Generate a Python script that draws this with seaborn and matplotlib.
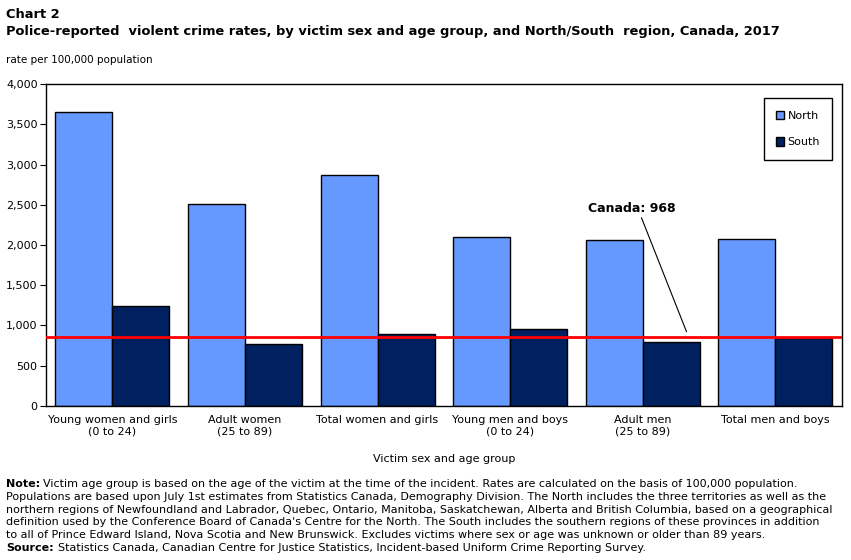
import matplotlib
matplotlib.use('Agg')
import matplotlib.pyplot as plt
import pandas as pd
import seaborn as sns

# values (rate per 100,000 population)
groups = ['Young women and girls\n(0 to 24)', 'Adult women\n(25 to 89)', 'Total women and girls',
          'Young men and boys\n(0 to 24)', 'Adult men\n(25 to 89)', 'Total men and boys']
north = [3655, 2515, 2865, 2095, 2060, 2070]
south = [1235, 770, 895, 950, 790, 840]
regions = ['North', 'South']
canada_line = 850
y_ticks = [0, 500, 1000, 1500, 2000, 2500, 3000, 3500, 4000]

df = pd.DataFrame({
    'group': groups * 2,
    'rate': north + south,
    'region': ['North'] * len(groups) + ['South'] * len(groups),
})

sns.set_style('white')
plt.rcParams['font.family'] = ['DejaVu Sans']
plt.rcParams['text.color'] = 'black'
plt.rcParams['axes.labelcolor'] = 'black'
plt.rcParams['xtick.color'] = 'black'
plt.rcParams['ytick.color'] = 'black'

fig = plt.figure(figsize=(8.51, 5.6), dpi=100)
ax = fig.add_axes([46 / 851, 1 - 405.7 / 560, 795.7 / 851, 321.4 / 560])

sns.barplot(data=df, x='group', y='rate', hue='region', hue_order=regions,
            palette=['#6699FF', '#00205F'], edgecolor='black', linewidth=1,
            width=0.86, gap=0, saturation=1, ax=ax)

ax.axhline(canada_line, color='#FF0000', linewidth=2, zorder=5)
# leader line for the Canada label
ax.plot([4.33, 3.99], [920, 2340], color='black', linewidth=0.8, zorder=6)
ax.text(3.92, 2460, 'Canada: 968', ha='center', va='center', fontsize=9,
        fontweight='bold', zorder=6)

ax.set_xlim(-0.5, len(groups) - 0.5)
ax.set_ylim(0, 4000)
ax.set_yticks(y_ticks)
ax.set_yticklabels([f'{v:,}' for v in y_ticks], fontsize=8)
ax.tick_params(axis='y', left=True, length=4, width=0.8, pad=2)
ax.tick_params(axis='x', bottom=False, labelsize=8, pad=3)
for s in ax.spines.values():
    s.set_visible(True)
    s.set_color('black')
    s.set_linewidth(1)
ax.set_xlabel('Victim sex and age group', fontsize=8, labelpad=13)
ax.set_ylabel('')

leg = ax.legend(loc='upper right', bbox_to_anchor=(0.988, 0.956), fontsize=8,
                frameon=True, fancybox=False, edgecolor='black', framealpha=1,
                handlelength=0.75, handleheight=0.75, handletextpad=0.3,
                labelspacing=1.5, borderpad=1.1, borderaxespad=0)
leg.get_frame().set_linewidth(1)

fig.text(6 / 851, 1 - 14 / 560, 'Chart 2', fontsize=9.4, fontweight='bold', va='center')
fig.text(6 / 851, 1 - 32 / 560,
         'Police-reported  violent crime rates, by victim sex and age group, and North/South  region, Canada, 2017',
         fontsize=9.35, fontweight='bold', va='center')
fig.text(6 / 851, 1 - 60 / 560, 'rate per 100,000 population', fontsize=7.5, va='center')

note_lines = [
    'Victim age group is based on the age of the victim at the time of the incident. Rates are calculated on the basis of 100,000 population.',
    'Populations are based upon July 1st estimates from Statistics Canada, Demography Division. The North includes the three territories as well as the',
    'northern regions of Newfoundland and Labrador, Quebec, Ontario, Manitoba, Saskatchewan, Alberta and British Columbia, based on a geographical',
    "definition used by the Conference Board of Canada's Centre for the North. The South includes the southern regions of these provinces in addition",
    'to all of Prince Edward Island, Nova Scotia and New Brunswick. Excludes victims where sex or age was unknown or older than 89 years.',
]
y0 = 484
fs = 8.05
fig.text(6 / 851, 1 - y0 / 560, 'Note:', fontsize=fs, fontweight='bold', va='center')
for i, line in enumerate(note_lines):
    x = 43 / 851 if i == 0 else 6 / 851
    fig.text(x, 1 - (y0 + 12.8 * i) / 560, line, fontsize=fs, va='center')
fig.text(6 / 851, 1 - (y0 + 12.8 * 5) / 560, 'Source:', fontsize=fs, fontweight='bold', va='center')
fig.text(58 / 851, 1 - (y0 + 12.8 * 5) / 560,
         'Statistics Canada, Canadian Centre for Justice Statistics, Incident-based Uniform Crime Reporting Survey.',
         fontsize=fs, va='center')

fig.savefig('out.png', dpi=100)
